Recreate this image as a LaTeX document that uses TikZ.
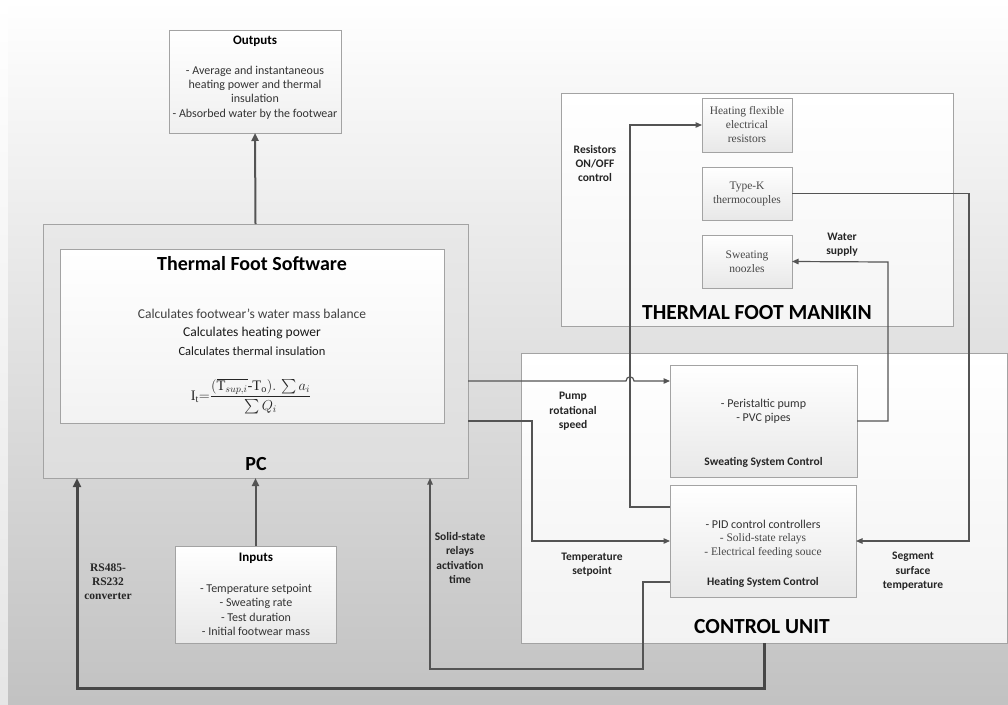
\documentclass[tikz,border=0pt]{standalone}
\usepackage{amsmath}
\usepackage{fontspec}
\setmainfont{Carlito}
\newfontfamily\tnr{Liberation Serif}
\usetikzlibrary{arrows.meta}

\definecolor{edgegray}{gray}{0.64}
\definecolor{wiregray}{gray}{0.33}
\definecolor{inkgray}{gray}{0.2}
\definecolor{softgray}{gray}{0.28}

\tikzset{
  panel/.style={draw=edgegray, line width=0.9pt, inner sep=0pt, outer sep=0pt, rectangle},
  partbox/.style={panel, top color=white, bottom color=black!9},
  wire/.style={draw=wiregray, line width=1.2pt, -{Triangle[length=6.5pt,width=5.5pt]}},
  heavywire/.style={draw=wiregray, line width=2pt, -{Triangle[length=8pt,width=7pt]}},
  busline/.style={draw=black!72, line width=3pt, -{Triangle[length=9pt,width=8pt]}},
  boxtext/.style={align=center, text=inkgray, font=\fontsize{12}{14.4}\selectfont, inner sep=0pt},
  serifnote/.style={align=center, text=softgray, font=\tnr\fontsize{11.5}{14.4}\selectfont, inner sep=0pt},
  flowlabel/.style={align=center, text=black!85, font=\bfseries\fontsize{11.5}{14.4}\selectfont, inner sep=0pt},
  boxhead/.style={text=black, font=\bfseries\fontsize{13}{15}\selectfont, inner sep=0pt},
  unittitle/.style={text=black, font=\bfseries\fontsize{21.5}{24}\selectfont, inner sep=0pt},
}

\begin{document}
\begin{tikzpicture}[x=1pt,y=-1pt]
\useasboundingbox (0,0) rectangle (1008,704);

% backdrop
\shade[top color=white, bottom color=black!10] (0,0) rectangle (1008,704);
\shade[top color=white, bottom color=black!24] (8,0) rectangle (1008,704);

% outputs
\node[panel, minimum width=172pt, minimum height=103pt, top color=white, bottom color=black!6] (out) at (255,81.5) {};
\node[boxhead] (outhead) at (255,41) {Outputs};
\node[boxtext] (outtext) at (255,92.5) {- Average and instantaneous\\heating power and thermal\\insulation\\- Absorbed water by the footwear};

% PC with the software panel
\node[panel, minimum width=425pt, minimum height=254pt, top color=black!9, bottom color=black!13] (pc) at (255.5,351) {};
\node[panel, minimum width=384pt, minimum height=174pt, top color=white, bottom color=black!5] (soft) at (252,336) {};
\node[text=black, font=\bfseries\fontsize{20}{22}\selectfont, inner sep=0pt] (softhead) at (252,264) {Thermal Foot Software};
\node[boxtext, text=black!75, font=\fontsize{13.5}{15}\selectfont] (calc1) at (252,314) {Calculates footwear’s water mass balance};
\node[boxtext, text=black!90, font=\fontsize{13.5}{15}\selectfont] (calc2) at (252,332.5) {Calculates heating power};
\node[boxtext, text=black!90, font=\fontsize{12.5}{15}\selectfont] (calc3) at (252,351) {Calculates thermal insulation};
\node[inner sep=0pt, text=black!85, font=\fontsize{14.5}{16}\selectfont] (formula) at (251,396)
  {$\text{\tnr I}_{\text{\tnr t}}{=}\dfrac{(\overline{\text{\tnr T}_{sup,i}}\text{\tnr -T}_{\text{\tnr o}}).\,\sum a_i}{\sum Q_i}$};
\node[text=black, font=\bfseries\fontsize{20}{22}\selectfont, inner sep=0pt] (pclabel) at (256,464) {PC};

% inputs
\node[panel, minimum width=161pt, minimum height=97pt, top color=white, bottom color=black!9] (inp) at (255.5,594.5) {};
\node[boxhead] (inphead) at (256,558) {Inputs};
\node[boxtext] (inptext) at (256,610) {- Temperature setpoint\\- Sweating rate\\- Test duration\\- Initial footwear mass};

% thermal foot manikin
\node[panel, minimum width=392pt, minimum height=233pt, top color=white, bottom color=black!4] (man) at (757,209.5) {};
\node[unittitle] (manhead) at (757,313) {THERMAL FOOT MANIKIN};
\node[partbox, minimum width=90pt, minimum height=54pt] (res) at (747,125) {};
\node[serifnote] (restext) at (747,124.5) {Heating flexible\\electrical\\resistors};
\node[partbox, minimum width=90pt, minimum height=53pt] (tc) at (747,193.5) {};
\node[serifnote] (tctext) at (747,194) {Type-K\\thermocouples};
\node[partbox, minimum width=90pt, minimum height=53pt] (noz) at (747,261.5) {};
\node[serifnote] (noztext) at (747,262) {Sweating\\noozles};

% control unit
\node[panel, minimum width=486pt, minimum height=290pt, top color=white, bottom color=black!5] (cu) at (764,498) {};
\node[unittitle] (cuhead) at (762,627) {CONTROL UNIT};
\node[partbox, minimum width=187pt, minimum height=112pt] (sw) at (763.5,421) {};
\node[boxtext] (swtext) at (763.5,411.5) {- Peristaltic pump\\- PVC pipes};
\node[flowlabel] (swhead) at (763.5,462) {Sweating System Control};
\node[partbox, minimum width=186pt, minimum height=112pt] (heat) at (763,541) {};
\node[boxtext] (heat1) at (763,524) {- PID control controllers};
\node[serifnote] (heat2) at (763,538.5) {- Solid-state relays};
\node[serifnote] (heat3) at (763,553) {- Electrical feeding souce};
\node[flowlabel] (heathead) at (763,582) {Heating System Control};

% signal labels
\node[flowlabel] (lres) at (595,163.5) {Resistors\\ON/OFF\\control};
\node[flowlabel] (lwater) at (842,244.5) {Water\\supply};
\node[flowlabel] (lpump) at (573,411.5) {Pump\\rotational\\speed};
\node[flowlabel] (ltemp) at (592,564.5) {Temperature\\setpoint};
\node[flowlabel] (lseg) at (913,571.5) {Segment\\surface\\temperature};
\node[flowlabel] (lssr) at (460,558) {Solid-state\\relays\\activation\\time};
\node[flowlabel, font=\tnr\bfseries\fontsize{11.5}{14.2}\selectfont] (lrs) at (108,582) {RS485-\\RS232\\converter};

% connectors
\draw[heavywire] (pc.north) -- (out.south);
\draw[heavywire] (inp.north) -- (pc.south);
\draw[busline] (cu.south) -- (cu.south |- 0,688) -| (pc.south -| 77,0);
\draw[wire] (heat.west |- 0,582) -| (643,669) -| (pc.south -| 430,0);
\draw[wire] (heat.west |- 0,507) -| (630,125) -- (res.west);
\draw[wire] (pc.east |- 0,381) -- (626,381) .. controls (626,375.5) and (634,375.5) .. (634,381) -- (sw.west |- 0,381);
\draw[wire] (pc.east |- 0,421) -| (532,541) -- (heat.west);
\draw[wire] (sw.east) -| (888,262) -- (noz.east);
\draw[wire] (tc.east) -| (969,541) -- (heat.east);
\end{tikzpicture}
\end{document}
